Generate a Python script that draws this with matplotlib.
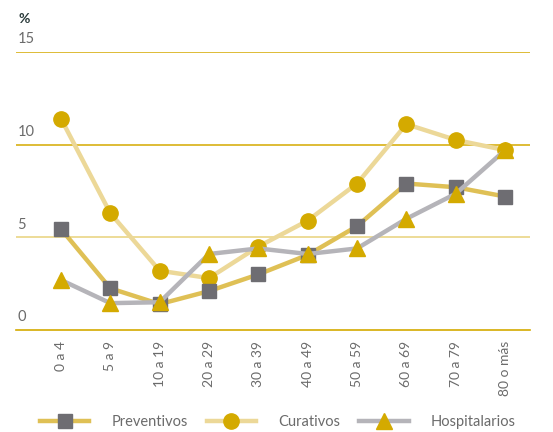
import matplotlib.pyplot as plt

plt.rcParams['font.family'] = ['Lato', 'DejaVu Sans']

grupos = ['0 a 4', '5 a 9', '10 a 19', '20 a 29', '30 a 39', '40 a 49',
          '50 a 59', '60 a 69', '70 a 79', '80 o más']
preventivos = [5.45, 2.25, 1.4, 2.1, 3.0, 4.05, 5.6, 7.9, 7.7, 7.2]
curativos = [11.4, 6.3, 3.2, 2.8, 4.5, 5.9, 7.9, 11.1, 10.25, 9.7]
hospitalarios = [2.7, 1.45, 1.5, 4.1, 4.4, 4.1, 4.4, 6.0, 7.35, 9.7]
yticks = [0, 5, 10, 15]

gold = '#d4aa00'
grey_txt = '#6b6b6b'

fig = plt.figure(figsize=(5.53, 4.32), dpi=100)
ax = fig.add_axes([0.029, 0.236, 0.929, 0.644])

x = list(range(len(grupos)))

# grid lines
for v in yticks[1:]:
    c = '#e8d27a' if v == 5 else gold
    ax.axhline(v, color=c, lw=1.1, zorder=1)

ax.plot(x, curativos, color='#ecd898', lw=3.2, marker='o', markersize=11,
        markerfacecolor=gold, markeredgecolor=gold, label='Curativos', zorder=3)
ax.plot(x, preventivos, color='#dfc055', lw=3.2, marker='s', markersize=10.5,
        markerfacecolor='#6e6d72', markeredgecolor='#6e6d72', label='Preventivos', zorder=4)
ax.plot(x, hospitalarios, color='#b5b4b9', lw=3.2, marker='^', markersize=11.5,
        markerfacecolor=gold, markeredgecolor=gold, label='Hospitalarios', zorder=5)

ax.set_xlim(-0.91, 9.5)
ax.set_ylim(0, 15)
for s in ['top', 'right', 'left']:
    ax.spines[s].set_visible(False)
ax.spines['bottom'].set_color(gold)
ax.spines['bottom'].set_linewidth(1.2)
ax.set_yticks([])
ax.set_xticks(x)
ax.set_xticklabels(grupos, rotation=90, fontsize=10, color=grey_txt)
ax.tick_params(axis='x', length=0, pad=8)

for v in yticks:
    ax.text(0.003, v + 0.3, str(v), transform=ax.get_yaxis_transform(),
            ha='left', va='bottom', fontsize=10.5, color=grey_txt)
fig.text(0.033, 0.955, '%', fontsize=10, fontweight='bold', color='#2a3a3a',
         ha='left', va='center')

h, l = ax.get_legend_handles_labels()
order = [1, 0, 2]
fig.legend([h[i] for i in order], [l[i] for i in order], loc='center',
           bbox_to_anchor=(0.502, 0.022), ncol=3, frameon=False,
           handlelength=3.4, handletextpad=1.5, columnspacing=1.3,
           labelcolor=grey_txt, prop={'size': 10.5})

fig.savefig('out.png', dpi=100)
